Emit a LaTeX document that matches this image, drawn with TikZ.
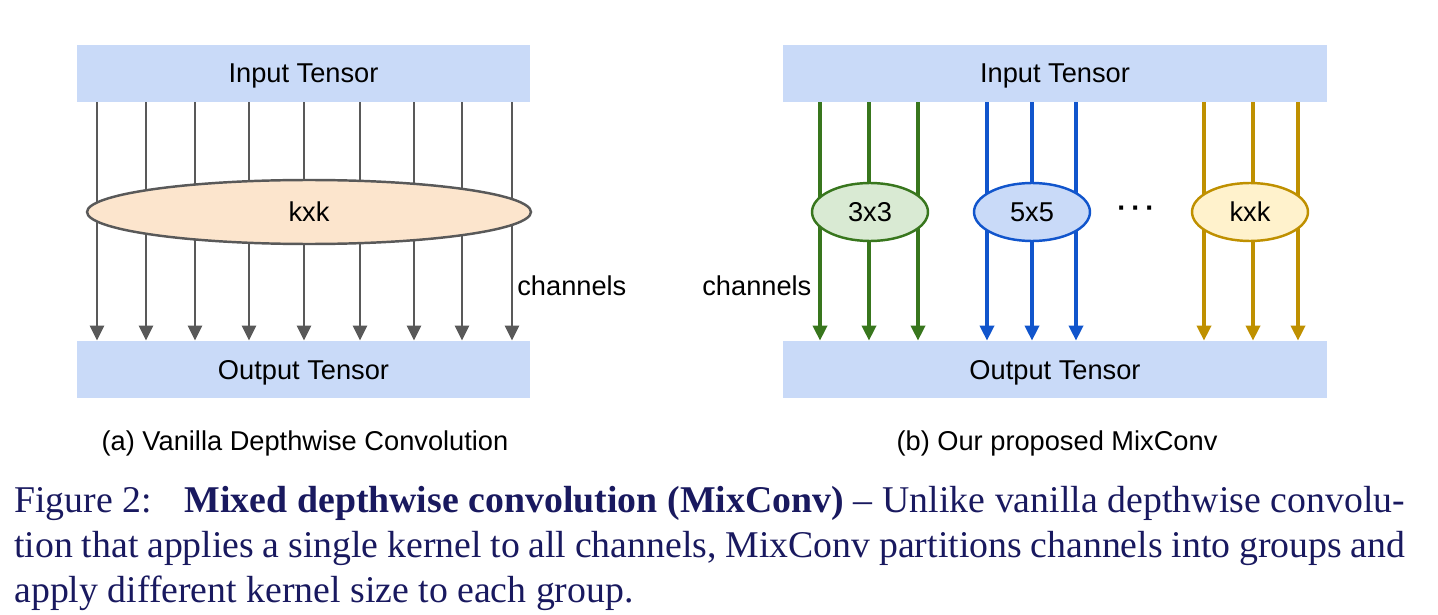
\documentclass[tikz,border=0pt]{standalone}
\usepackage{fontspec}
\setmainfont{Liberation Serif}
\setsansfont{Liberation Sans}
\usetikzlibrary{shapes.geometric,arrows.meta}

\definecolor{tensorblue}{HTML}{C9DAF8}
\definecolor{wireGray}{HTML}{595959}
\definecolor{peach}{HTML}{FCE5CD}
\definecolor{leafGreen}{HTML}{38761D}
\definecolor{paleGreen}{HTML}{D9EAD3}
\definecolor{deepBlue}{HTML}{1155CC}
\definecolor{gold}{HTML}{BF9000}
\definecolor{paleGold}{HTML}{FFF2CC}
\definecolor{captionNavy}{RGB}{25,25,95}

\begin{document}
\begin{tikzpicture}[x=0.02cm, y=-0.02cm,
    diagtext/.style={font=\sffamily\fontsize{15.5}{18}\selectfont},
    tensor/.style={diagtext, fill=tensorblue, minimum height=1.14cm, inner sep=0, text depth=0pt},
    kernel/.style={diagtext, ellipse, draw, line width=1.4pt, inner sep=0,
        minimum width=2.32cm, minimum height=1.16cm},
    wire/.style={line width=2pt, -{Triangle[length=0.3cm,width=0.28cm]}},
    captext/.style={font=\fontsize{21.5}{25.6}\selectfont, text=captionNavy, inner sep=0}
]
\useasboundingbox (0,0) rectangle (1438,615);

% (a) vanilla depthwise convolution
\node[tensor, minimum width=9.06cm] (inA) at (303.5,73.5) {Input Tensor};
\node[tensor, minimum width=9.06cm] (outA) at (303.5,369.5) {Output Tensor};
\foreach \x in {97,146,195,249,304,360,414,462,512}
    \draw[wire, line width=1.6pt, wireGray] (\x,0 |- inA.south) -- (\x,0 |- outA.north);
\node[kernel, draw=wireGray, fill=peach, minimum width=8.88cm, minimum height=1.28cm]
    (kA) at (309,212) {kxk};
\node[diagtext, anchor=west, inner sep=0] (chA) at (517,286) {channels};
\node[diagtext, text depth=0pt] (capA) at (305,441) {(a) Vanilla Depthwise Convolution};

% (b) MixConv
\node[tensor, minimum width=10.88cm] (inB) at (1055,73.5) {Input Tensor};
\node[tensor, minimum width=10.88cm] (outB) at (1055,369.5) {Output Tensor};
\foreach \x/\c in {820/leafGreen,869/leafGreen,918/leafGreen,
                   987/deepBlue,1032/deepBlue,1076/deepBlue,
                   1204/gold,1253/gold,1298/gold}
    \draw[wire, \c] (\x,0 |- inB.south) -- (\x,0 |- outB.north);
\node[kernel, draw=leafGreen, fill=paleGreen] (k3) at (870,212) {3x3};
\node[kernel, draw=deepBlue, fill=tensorblue] (k5) at (1032,212) {5x5};
\node[diagtext, font=\sffamily\bfseries\fontsize{16}{18}\selectfont] (dots) at (1136,212) {·\,·\,·};
\node[kernel, draw=gold, fill=paleGold] (kk) at (1250,212) {kxk};
\node[diagtext, anchor=west, inner sep=0] (chB) at (702,286) {channels};
\node[diagtext, text depth=0pt] (capB) at (1057,441) {(b) Our proposed MixConv};

% figure caption
\node[captext, anchor=base west] (cap1) at (14,512)
    {\makebox[27.82cm][s]{Figure 2:\hspace{0.5em} \textbf{Mixed depthwise convolution (MixConv)} -- Unlike vanilla depthwise convolu-}};
\node[captext, anchor=base west] (cap2) at (14,557)
    {\makebox[27.82cm][s]{tion that applies a single kernel to all channels, MixConv partitions channels into groups and}};
\node[captext, anchor=base west] (cap3) at (14,602)
    {apply different kernel size to each group.};
\end{tikzpicture}
\end{document}
